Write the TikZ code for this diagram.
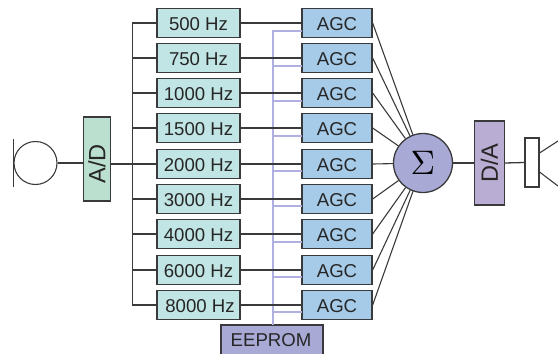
\documentclass[tikz,border=0pt]{standalone}
\usepackage{fontspec}
\setmainfont{Liberation Sans}
\definecolor{edgec}{HTML}{3A3A3C}
\definecolor{filterc}{HTML}{C1E5E4}
\definecolor{agcc}{HTML}{A6CBE9}
\definecolor{adc}{HTML}{BCE0D0}
\definecolor{dac}{HTML}{BAADD4}
\definecolor{sumc}{HTML}{A8A9D5}
\definecolor{ctrlc}{HTML}{B0B0E0}
\tikzset{
  blockbox/.style={draw=edgec,line width=1.3pt,inner sep=0pt,text=black!85,font=\fontsize{18.6}{20}\selectfont},
  filterbox/.style={blockbox,fill=filterc,minimum width=83pt,minimum height=29.5pt,text height=14.7pt,text depth=0pt},
  agcbox/.style={blockbox,fill=agcc,minimum width=70pt,minimum height=29.5pt,text height=14.7pt,text depth=0pt},
  wire/.style={draw=edgec,line width=1.3pt},
  ctrl/.style={draw=ctrlc,line width=1.1pt},
}
\begin{document}
\begin{tikzpicture}[x=1pt,y=-1pt]
\useasboundingbox (0,0) rectangle (558,354);
% filters and AGCs
\foreach \n/\f/\y/\s in {1/500/23/0,2/750/58/0,3/1000/93/0,4/1500/128/0,5/2000/164/0,6/3000/199/0,7/4000/234/0,8/6000/270/0,9/8000/305/3}{
  \node[filterbox] (f\n) at (198.5,\y) {\hspace*{\s pt}\f\ Hz};
  \node[agcbox] (g\n) at (337,\y) {AGC};
}
\node[blockbox,fill=sumc,minimum width=102pt,minimum height=30pt] (ee) at (272,340) {EEPROM\hspace*{2pt}};
\node[blockbox,fill=adc,minimum width=26.5pt,minimum height=84pt] (ad) at (97,159) {\rotatebox{90}{\fontsize{23.6}{24}\selectfont A/D\hspace*{10pt}}};
\node[blockbox,fill=dac,minimum width=29.5pt,minimum height=84pt] (da) at (489.5,163) {\rotatebox{90}{\fontsize{23.6}{24}\selectfont D/A}};
\node[circle,draw=edgec,line width=1.3pt,fill=sumc,minimum size=59pt,inner sep=0pt] (sum) at (423,163) {\scalebox{3.4}{$\Sigma$}};
\node[circle,draw=edgec,line width=1.1pt,minimum size=43pt,inner sep=0pt] (mic) at (35.5,163) {};
\node[draw=edgec,line width=1.1pt,fill=white,minimum width=14pt,minimum height=49pt,inner sep=0pt] (spk) at (532,162.5) {};
% EEPROM control
\coordinate (ctop) at (273,30);
\coordinate (cbot) at (273,325);
\draw[ctrl] (ctop) -- (cbot);
\foreach \n/\y in {1/31,2/66,3/101,4/136,5/171,6/206,7/242,8/277,9/312}{
  \coordinate (c\n) at (273,\y);
  \coordinate (t\n) at (302,\y);
  \draw[ctrl] (c\n) -- (t\n);
}
% audio path
\draw[wire] (mic.east) -- (sum.west -| ad.west);
\coordinate (busT) at (132.5,23);
\coordinate (busB) at (132.5,305);
\draw[wire] (f1.west) -- (busT) -- (busB) -- (f9.west);
\foreach \n in {2,3,4,6,7,8}{
  \draw[wire] (f\n.west) -- (f\n.west -| busT);
}
\draw[wire] (f5.west -| ad.east) -- (f5.west);
\foreach \n in {1,...,9}{
  \draw[wire] (f\n.east) -- (g\n.west);
  \draw[wire,line width=1.1pt] (g\n.east) -- (sum);
}
\draw[wire] (sum.east) -- (da.west);
\draw[wire] (da.east) -- (spk.west);
% microphone bar and speaker cone
\coordinate (mT) at (13.5,139);
\coordinate (mB) at (13.5,187);
\draw[wire,line width=1.1pt] (mT) -- (mB);
\coordinate (hT) at (558,141);
\coordinate (hB) at (558,186);
\draw[wire,line width=1.1pt] (spk.east |- 0,153) -- (hT);
\draw[wire,line width=1.1pt] (spk.east |- 0,172) -- (hB);
\end{tikzpicture}
\end{document}
